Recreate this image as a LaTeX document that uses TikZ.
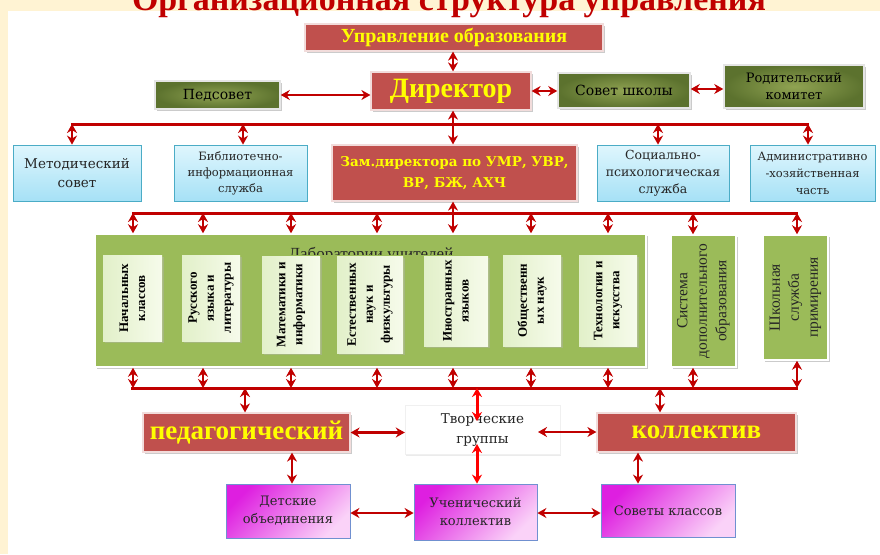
\documentclass[tikz,border=0pt]{standalone}
\usepackage{fontspec}
\setmainfont{DejaVu Serif}
\newfontfamily\tnr{Liberation Serif}
\usetikzlibrary{arrows.meta,shadows}
\definecolor{cream}{HTML}{FFF3D3}
\definecolor{arrred}{HTML}{C00000}
\definecolor{brred}{HTML}{FF0000}
\definecolor{boxred}{HTML}{C0504D}
\definecolor{ylw}{HTML}{FFFF00}
\definecolor{dkg}{HTML}{5C722E}
\definecolor{dkgl}{HTML}{90A352}
\definecolor{bluet}{HTML}{DFF6FD}
\definecolor{blueb}{HTML}{A6E1F6}
\definecolor{bluebd}{HTML}{4BACC6}
\definecolor{labg}{HTML}{9BBB59}
\definecolor{inl}{HTML}{E2F0C9}
\definecolor{inr}{HTML}{F6FBEB}
\definecolor{mag}{HTML}{DE1FE0}
\definecolor{pinkl}{HTML}{FAD2F8}
\definecolor{pinkbd}{HTML}{7090D0}
\definecolor{txt}{HTML}{262626}
\newcommand\boxat[7]{\node[#1, minimum width={(#5-#3)*1pt}, minimum height={(#6-#4)*1pt}] (#2) at ({(#3+#5)/2},{(#4+#6)/2}) {#7};}
\begin{document}
\begin{tikzpicture}[x=1pt,y=-1pt,
  shd/.style={drop shadow={shadow xshift=2pt,shadow yshift=-2pt,fill=black!45,opacity=0.45}},
  redbox/.style={shd, fill=boxred, draw=boxred!20!white, line width=1.2pt, text=ylw, font=\tnr\bfseries, inner sep=0pt, align=center},
  grbox/.style={shd, inner color=dkgl, outer color=dkg, draw=white!90!black, line width=1.5pt, text=black, inner sep=0pt, align=center},
  bluebox/.style={top color=bluet, bottom color=blueb, draw=bluebd, line width=0.8pt, inner sep=0pt, align=center, text=txt},
  labbox/.style={shd, fill=labg, draw=white, line width=1.5pt, inner sep=0pt},
  inbox/.style={drop shadow={shadow xshift=1.5pt,shadow yshift=-1.5pt,fill=black!30,opacity=0.4}, left color=inl, right color=inr, draw=none, inner sep=0pt},
  pinkbox/.style={top color=mag, bottom color=pinkl, shading angle=45, draw=pinkbd, line width=0.8pt, inner sep=0pt, align=center, text=txt},
  vtxt/.style={rotate=90, align=center, text=black},
  dar/.style={draw=arrred, line width=2.6pt, {Stealth[length=9pt,width=10pt]}-{Stealth[length=9pt,width=10pt]}},
  bar/.style={draw=arrred, line width=3pt},
  rar/.style={draw=brred, line width=3pt, {Stealth[length=9pt,width=10pt]}-{Stealth[length=9pt,width=10pt]}}
]
\useasboundingbox (0,0) rectangle (880,554);
% background
\fill[cream] (0,0) rectangle (880,554);
\fill[white] (8,11) rectangle (880,554);
\node[font=\tnr\bfseries\fontsize{34}{34}\selectfont, text=arrred, anchor=base] (title) at (449,10) {Организационная структура управления};

% top level
\boxat{redbox, font=\tnr\bfseries\fontsize{20}{20}\selectfont}{upr}{305}{24}{603}{51}{Управление образования}
\boxat{redbox, font=\tnr\bfseries\fontsize{28}{28}\selectfont}{dir}{371}{72}{531}{110}{Директор}
\boxat{grbox, font=\fontsize{14}{16}\selectfont}{ped}{155}{81}{280}{109}{Педсовет}
\boxat{grbox, font=\fontsize{14}{16}\selectfont}{sovsh}{558}{73}{690}{108}{Совет школы}
\boxat{grbox, font=\fontsize{13}{17}\selectfont}{rod}{724}{65}{864}{108}{Родительский\\комитет}

% second level
\boxat{bluebox, font=\fontsize{13.5}{19}\selectfont}{metod}{13}{145}{141}{201}{Методический\\совет}
\boxat{bluebox, font=\fontsize{11.5}{16}\selectfont}{bibl}{174}{145}{307}{201}{Библиотечно-\\информационная\\служба}
\boxat{redbox, font=\bfseries\fontsize{13.5}{21}\selectfont}{zam}{332}{145}{577}{201}{Зам.директора по УМР, УВР,\\ВР, БЖ, АХЧ}
\boxat{bluebox, font=\fontsize{12.5}{17}\selectfont}{soc}{597}{145}{729}{201}{Социально-\\психологическая\\служба}
\boxat{bluebox, font=\fontsize{11.5}{17}\selectfont}{adm}{750}{145}{875}{201}{Административно\\-хозяйственная\\часть}

% laboratories
\boxat{labbox}{lab}{95}{234}{646}{367}{}
\begin{scope}
\clip (250,236) rectangle (480,254.5);
\node[font=\tnr\fontsize{17}{17}\selectfont, anchor=base, text=txt] (labt) at (371,259) {Лаборатории учителей};
\end{scope}
\boxat{inbox}{l1}{103}{255}{162}{341}{}
\boxat{inbox}{l2}{182}{255}{240}{341}{}
\boxat{inbox}{l3}{262}{256}{320}{353}{}
\boxat{inbox}{l4}{337}{256}{403}{353}{}
\boxat{inbox}{l5}{424}{256}{488}{346}{}
\boxat{inbox}{l6}{503}{255}{561}{346}{}
\boxat{inbox}{l7}{579}{255}{637}{346}{}
\begin{scope}[every node/.style={vtxt, font=\tnr\bfseries\fontsize{13}{17}\selectfont}]
\node (l1t) at (l1) {Начальных\\классов};
\node (l2t) at (l2) {Русского\\языка и\\литературы};
\node (l3t) at (l3) {Математики и\\информатики};
\node (l4t) at (l4) {Естественных\\наук и\\физкультуры};
\node (l5t) at (l5) {Иностранных\\языков};
\node (l6t) at (l6) {Общественн\\ых наук};
\node (l7t) at (l7) {Технологии и\\искусства};
\end{scope}
\boxat{labbox}{sys}{671}{235}{736}{367}{}
\boxat{labbox}{shk}{763}{235}{828}{360}{}
\node[vtxt, font=\tnr\fontsize{15.5}{19.5}\selectfont, text=txt] (syst) at (sys) {Система\\дополнительного\\образования};
\node[vtxt, font=\tnr\fontsize{15.5}{19}\selectfont, text=txt] (shkt) at (shk) {Школьная\\служба\\примирения};

% lower level
\boxat{redbox, font=\tnr\bfseries\fontsize{27}{27}\selectfont}{pedag}{143}{413}{350}{452}{педагогический}
\boxat{redbox, font=\tnr\bfseries\fontsize{27}{27}\selectfont}{koll}{597}{413}{796}{452}{коллектив}
\node[drop shadow={shadow xshift=1pt,shadow yshift=-1pt,fill=black!15,opacity=0.5}, fill=white, draw=black!6, minimum width=155pt, minimum height=49pt, inner sep=0pt, align=center, font=\fontsize{13.5}{20}\selectfont, text=txt] (tvor) at (482.5,430) {Творческие\\группы};

\boxat{pinkbox, font=\fontsize{13}{18}\selectfont}{det}{226}{484}{350}{538}{Детские\\объединения}
\boxat{pinkbox, font=\fontsize{13}{18}\selectfont}{uch}{414}{484}{537}{540}{Ученический\\коллектив}
\boxat{pinkbox, font=\fontsize{13}{18}\selectfont}{sov}{601}{484}{735}{537}{Советы классов}

% coordinates
\coordinate (cx) at (453,0);
\coordinate (b1l) at (71,124); \coordinate (b1r) at (809,124);
\coordinate (t1a) at (72,124); \coordinate (t1b) at (243,124);
\coordinate (t1c) at (658,124); \coordinate (t1d) at (808,124);
\coordinate (b2l) at (132,213); \coordinate (b2r) at (798,213);
\coordinate (b3l) at (131,388); \coordinate (b3r) at (798,388);
\foreach \n/\x in {a/133,b/203,c/291,d/377,f/531,g/608,h/693,i/797}{
  \coordinate (u\n) at (\x,213);
  \coordinate (d\n) at (\x,388);
}
\coordinate (xp) at (245,388); \coordinate (xk) at (660,388);
\coordinate (xt) at (477,388); \coordinate (xt1) at (477,421);
\coordinate (xt2) at (477,444);
\coordinate (tvr) at (538,432);
\coordinate (x292) at (292,0); \coordinate (x638) at (638,0);
\coordinate (yb) at (0,513);

% bars
\draw[bar] (b1l) -- (b1r);
\draw[bar] (b2l) -- (b2r);
\draw[bar] (b3l) -- (b3r);

% arrows top
\draw[dar] (upr.south -| cx) -- (dir.north -| cx);
\draw[dar] (ped.east) -- (ped.east -| dir.west);
\draw[dar] (dir.east) -- (dir.east -| sovsh.west);
\draw[dar] (sovsh.east |- 0,89) -- (rod.west |- 0,89);
\draw[dar] (dir.south -| cx) -- (zam.north -| cx);
\draw[dar] (t1a) -- (metod.north -| t1a);
\draw[dar] (t1b) -- (bibl.north -| t1b);
\draw[dar] (t1c) -- (soc.north -| t1c);
\draw[dar] (t1d) -- (adm.north -| t1d);
% arrows to laboratories
\foreach \n in {a,b,c,d,f,g}{
  \draw[dar] (u\n) -- (lab.north -| u\n);
  \draw[dar] (lab.south -| d\n) -- (d\n);
}
\draw[dar] (zam.south -| cx) -- (lab.north -| cx);
\draw[dar] (lab.south -| cx) -- (cx |- b3l);
\draw[dar] (uh) -- (sys.north -| uh);
\draw[dar] (sys.south -| dh) -- (dh);
\draw[dar] (ui) -- (shk.north -| ui);
\draw[dar] (shk.south -| di) -- (di);
% lower arrows
\draw[dar] (xp) -- (pedag.north -| xp);
\draw[dar] (xk) -- (koll.north -| xk);
\draw[rar] (xt) -- (xt1);
\draw[rar] (xt2) -- (uch.north -| xt2);
\draw[dar] (pedag.east) -- (pedag.east -| tvor.west);
\draw[dar] (tvr) -- (tvr -| koll.west);
\draw[dar] (pedag.south -| x292) -- (det.north -| x292);
\draw[dar] (koll.south -| x638) -- (sov.north -| x638);
\draw[dar] (det.east |- yb) -- (uch.west |- yb);
\draw[dar] (uch.east |- yb) -- (sov.west |- yb);
\end{tikzpicture}
\end{document}
